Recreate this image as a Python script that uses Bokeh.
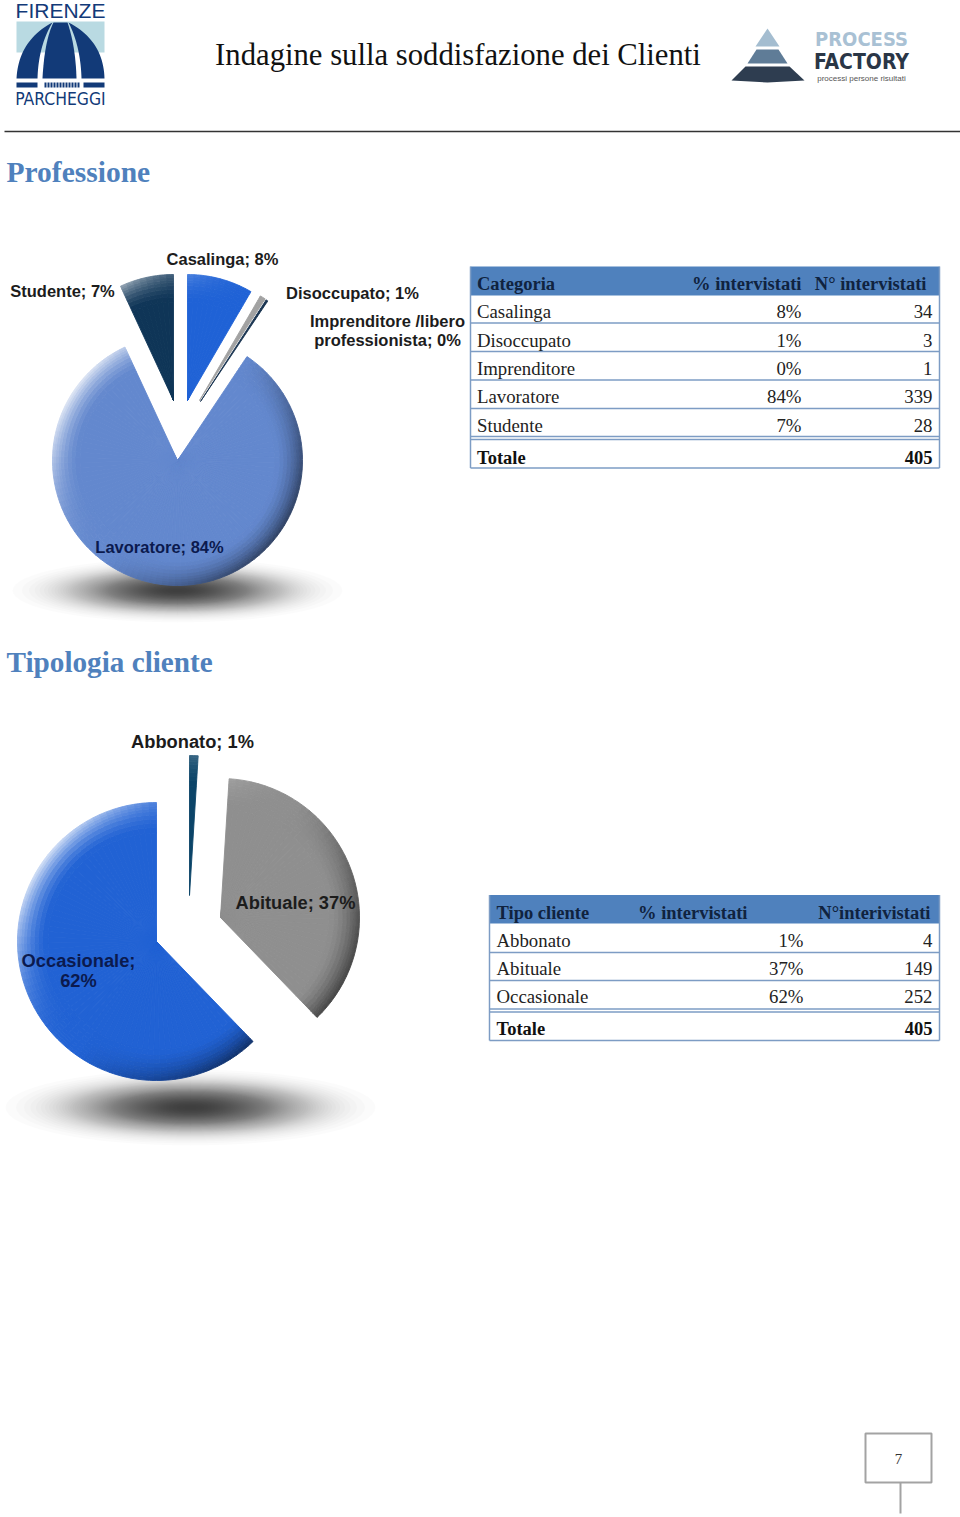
import numpy as np
from bokeh.plotting import figure
from bokeh.models import Range1d
from bokeh.core.properties import value
from bokeh.embed import file_html
from bokeh.resources import INLINE

# ---------- data ----------
page_title = "Indagine sulla soddisfazione dei Clienti"
section_titles = ["Professione", "Tipologia cliente"]

prof_categories = ["Casalinga", "Disoccupato", "Imprenditore", "Lavoratore", "Studente"]
prof_percent = ["8%", "1%", "0%", "84%", "7%"]
prof_counts = [34, 3, 1, 339, 28]
prof_total = 405
prof_header = ["Categoria", "% intervistati", "N° intervistati"]
prof_labels = ["Casalinga; 8%", "Disoccupato; 1%", "Imprenditore /libero\nprofessionista; 0%",
               "Lavoratore; 84%", "Studente; 7%"]

tipo_categories = ["Abbonato", "Abituale", "Occasionale"]
tipo_percent = ["1%", "37%", "62%"]
tipo_counts = [4, 149, 252]
tipo_total = 405
tipo_header = ["Tipo cliente", "% intervistati", "N°interivistati"]
tipo_labels = ["Abbonato; 1%", "Abituale; 37%", "Occasionale;\n62%"]
total_label = "Totale"
page_number = "7"

# ---------- styling / layout ----------
prof_colors = ["#1F62D6", "#A2A2A2", "#17324F", "#6388CE", "#0F3557"]
tipo_colors = ["#0B4468", "#8F8F8F", "#2162D4"]
# one exploded centre and radius per slice
prof_centres = [(187, 400, 126), (199, 400, 121), (200, 401, 121), (177, 460, 125), (173, 400, 126)]
tipo_centres = [(189, 895, 140), (220, 917, 139), (156, 941, 139)]
prof_label_pos = [(222, 258), (352, 292), (387, 330), (159, 546), (62, 290)]
tipo_label_pos = [(192, 741), (295, 902), (78, 970)]
prof_label_col = ["#1c1c1c", "#1c1c1c", "#1c1c1c", "#0B1A4E", "#1c1c1c"]
tipo_label_col = ["#1c1c1c", "#1c1c1c", "#0B1A4E"]

BLUE = "#4F81BD"
HEAD_TXT = "#10233F"
GRID = "#7D9CC4"
SERIF = "Liberation Serif"
SANS = "Liberation Sans"
COND = "'DejaVu Sans Condensed', 'Liberation Sans'"
NAVY = "#123A78"

p = figure(width=960, height=1517, x_range=Range1d(0, 960), y_range=Range1d(1517, 0),
           x_axis_type=None, y_axis_type=None, toolbar_location=None,
           output_backend="svg", min_border=0, outline_line_color=None,
           background_fill_color="white", border_fill_color="white")
p.grid.visible = False


def txt(x, y, s, size, color, font=SERIF, style="normal", align="left", lh=1.2):
    p.text([x], [y], text=[s], text_font=value(font), text_font_size=f"{size}px",
           text_font_style=style, text_color=color, text_align=align,
           text_baseline="middle", text_line_height=lh)


def mix(c, t, a):
    return c + (t - c) * a


def shaded_pie(values, colors, centres):
    """One pie: every slice drawn from its share of the total, with a bevelled rim."""
    total = float(sum(values))
    bands = [0, .78, .82, .85, .88, .91, .935, .955, .975, .99, 1.0]
    rows = dict(x=[], y=[], ir=[], or_=[], a0=[], a1=[], c=[])
    start = 0.0
    light = np.radians(-55)   # compass direction of the light
    for v, col, (cx, cy, R) in zip(values, colors, centres):
        sweep = v / total * 2 * np.pi
        rgb = [int(col[i:i + 2], 16) for i in (1, 3, 5)]
        n = max(1, int(np.degrees(sweep) / 3))
        edges = np.linspace(start, start + sweep, n + 1)
        for i in range(n):
            mid = (edges[i] + edges[i + 1]) / 2
            s = np.cos(mid - light)
            for b in range(len(bands) - 1):
                t = (bands[b] + bands[b + 1]) / 2
                rim = max(0.0, (t - .78) / .22) ** 1.7 if b else 0.0
                if s > 0:
                    target, amt = 255, s ** 2.5 * rim * .8
                else:
                    target, amt = 0, -s * rim * .52
                shade = [int(mix(ch, target, amt)) for ch in rgb]
                rows["x"].append(cx); rows["y"].append(cy)
                rows["ir"].append(bands[b] * R); rows["or_"].append(bands[b + 1] * R)
                rows["a0"].append(np.pi / 2 - edges[i + 1]); rows["a1"].append(np.pi / 2 - edges[i])
                rows["c"].append("#%02x%02x%02x" % tuple(shade))
        start += sweep
    p.annular_wedge(x="x", y="y", inner_radius="ir", outer_radius="or_", start_angle="a0",
                    end_angle="a1", fill_color="c", line_color="c", line_width=0.9, source=rows)


def shadow(cx, cy, rx, ry, n=70):
    # stacked faint ellipses whose radii give a soft, gaussian-looking fall-off
    u = np.linspace(0.03, 0.995, n)
    k = np.sqrt(-np.log(u) / -np.log(0.03))
    p.ellipse(x=[cx] * n, y=[cy] * n, width=list(2 * rx * k), height=list(2 * ry * k),
              fill_color="black", fill_alpha=0.017, line_color=None)


def table(x0, x1, top, head_bot, row_lines, bottom, header, cats, pcts, cnts, total,
          xt, xp, xn, hp, hn, centres, hp_align="right"):
    p.quad(left=[x0], right=[x1], top=[top], bottom=[head_bot], fill_color=BLUE, line_color=None)
    p.segment(x0=[x0] * len(row_lines), x1=[x1] * len(row_lines), y0=row_lines, y1=row_lines,
              line_color=GRID, line_width=1.5)
    p.segment(x0=[x0, x1, x0], x1=[x0, x1, x1], y0=[top, top, bottom], y1=[bottom, bottom, bottom],
              line_color=GRID, line_width=1.5)
    txt(xt, centres[0], header[0], 18.5, HEAD_TXT, style="bold")
    txt(hp, centres[0], header[1], 18.5, HEAD_TXT, style="bold", align=hp_align)
    txt(hn, centres[0], header[2], 18.5, HEAD_TXT, style="bold", align="right")
    for c, pc, n, b in zip(cats, pcts, cnts, centres[1:]):
        txt(xt, b, c, 18.8, "#222222")
        txt(xp, b, pc, 18.8, "#222222", align="right")
        txt(xn, b, str(n), 18.8, "#222222", align="right")
    txt(xt, centres[-1], total_label, 18.5, "#111111", style="bold")
    txt(xn, centres[-1], str(total), 18.5, "#111111", style="bold", align="right")


def qbez(a, c, b, n=24):
    t = np.linspace(0, 1, n)[:, None]
    return (1 - t) ** 2 * np.array(a) + 2 * t * (1 - t) * np.array(c) + t ** 2 * np.array(b)


def poly(points, color):
    pts = np.array(points)
    p.patch(pts[:, 0], pts[:, 1], fill_color=color, line_color=None)


# ---------- logo left ----------
txt(60, 10, "FIRENZE", 21, NAVY, font=SANS, align="center")
p.quad(left=[16], right=[104], top=[21], bottom=[52], fill_color="#B9DAE2", line_color=None)
poly(np.vstack([qbez((16, 78), (18, 40), (52, 22)), qbez((52, 22), (38, 45), (37, 78))]), NAVY)
poly(np.vstack([qbez((42, 78), (44, 40), (53, 22)), [(67, 22)], qbez((67, 22), (75, 45), (76, 78))]), NAVY)
poly(np.vstack([qbez((81, 78), (80, 45), (68, 22)), qbez((68, 22), (103, 40), (104, 78))]), NAVY)
p.quad(left=[16, 83], right=[37, 104], top=[82, 82], bottom=[87, 87], fill_color=NAVY, line_color=None)
lx = np.arange(44, 79, 3.0)
p.quad(left=lx, right=lx + 2, top=[82] * len(lx), bottom=[87] * len(lx), fill_color=NAVY, line_color=None)
txt(60, 98, "PARCHEGGI", 17.4, NAVY, font=COND, align="center")

# ---------- logo right ----------
poly([(767, 28), (779, 46), (755, 46)], "#A4BDD0")
poly([(756, 49), (778, 49), (787, 63), (747, 63)], "#5F7C97")
poly([(745, 66), (789, 66), (804, 80), (767, 82), (731, 80)], "#2E3D50")
txt(861, 38, "PROCESS", 20, "#A9C1D4", font=COND, style="bold", align="center")
txt(861, 61, "FACTORY", 21, "#2A3646", font=COND, style="bold", align="center")
txt(861, 78, "processi persone risultati", 8, "#555555", font=SANS, align="center")

# ---------- page head ----------
txt(457.5, 54.5, page_title, 30.7, "#111111", align="center")
p.segment(x0=[4], x1=[960], y0=[131], y1=[131], line_color="#333333", line_width=1.3)
txt(6, 171, section_titles[0], 29.5, BLUE, style="bold")
txt(6, 661, section_titles[1], 29.2, BLUE, style="bold")

# ---------- first pie ----------
shadow(177, 590, 165, 32)
shaded_pie(prof_counts, prof_colors, prof_centres)
for lab, (x, y), c in zip(prof_labels, prof_label_pos, prof_label_col):
    txt(x, y, lab, 16.5, c, font=SANS, style="bold", align="center", lh=1.05)

table(470, 939, 266, 295, [322.5, 351, 379.5, 408, 436, 439], 467.5,
      prof_header, prof_categories, prof_percent, prof_counts, prof_total,
      476.5, 801, 932, 801, 926, [283, 311, 340, 368, 396, 425, 457])

# ---------- second pie ----------
shadow(190, 1107, 185, 38)
shaded_pie(tipo_counts, tipo_colors, tipo_centres)
for lab, (x, y), c in zip(tipo_labels, tipo_label_pos, tipo_label_col):
    txt(x, y, lab, 18.3, c, font=SANS, style="bold", align="center", lh=0.92)

table(489, 939, 894.5, 923, [952, 980, 1008.5, 1011.5], 1040,
      tipo_header, tipo_categories, tipo_percent, tipo_counts, tipo_total,
      496, 803, 932, 637.5, 930, [912, 940, 968, 996, 1028], hp_align="left")

# ---------- page number ----------
p.quad(left=[865], right=[931], top=[1433], bottom=[1482], fill_color=None, line_color="#A3A3A3", line_width=2)
p.segment(x0=[900], x1=[900], y0=[1482], y1=[1513], line_color="#A3A3A3", line_width=2)
txt(898, 1458, page_number, 15, "#333333", align="center")

open("out.html", "w").write(file_html(p, INLINE))
